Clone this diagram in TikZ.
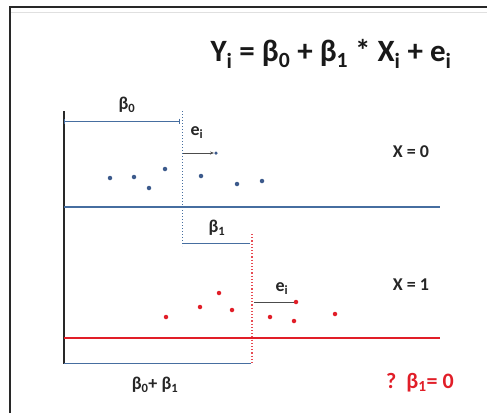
\documentclass[tikz,border=0pt]{standalone}
\usepackage{fontspec}
\setmainfont{Carlito}
\usetikzlibrary{arrows.meta}
\definecolor{axblue}{RGB}{70,110,160}
\definecolor{dotblue}{RGB}{60,90,140}
\definecolor{myred}{RGB}{225,30,40}
\definecolor{frame}{RGB}{40,40,40}
\tikzset{
  bdot/.style={circle,fill=dotblue,inner sep=0pt,minimum size=4.5pt},
  rdot/.style={circle,fill=myred,inner sep=0pt,minimum size=4.5pt},
  brk/.style={draw=axblue,line width=1pt,{Bar[width=5pt]}-{Bar[width=5pt]}},
  lbl/.style={font=\fontsize{18}{20}\selectfont\bfseries,inner sep=0pt,text=black!85},
  xl/.style={font=\fontsize{18}{20}\selectfont\bfseries,inner sep=0pt,text=black!85},
}
\begin{document}
\begin{tikzpicture}[x=1pt,y=-1pt]
\useasboundingbox (0,0) rectangle (487,413);
\fill[white] (0,0) rectangle (487,413);
% frame
\draw[frame,line width=1.6pt] (10,413) -- (10,7) -- (487,7);
\draw[black!12,line width=0.6pt] (11,12) -- (487,12);
% title
\node[inner sep=0pt,font=\fontsize{31}{34}\selectfont\bfseries,text=black!90] (title) at (331,54) {Y\textsubscript{i} = β\textsubscript{0} + β\textsubscript{1} * X\textsubscript{i} + e\textsubscript{i}};
% axis
\coordinate (ax0) at (64,111);
\coordinate (ax1) at (64,364);
\draw[frame,line width=1.2pt] (ax0) -- (ax1);
% beta0 bracket
\coordinate (b0a) at (64,121);
\coordinate (b0b) at (180,121);
\draw[brk] (b0a) -- (b0b);
\node[lbl] (lb0) at (127,105) {β\textsubscript{0}};
% blue dotted vertical
\coordinate (vb0) at (182,111);
\coordinate (vb1) at (182,246);
\draw[axblue,dotted,line width=1pt] (vb0) -- (vb1);
% e_i blue
\node[lbl] (le1) at (197,133) {e\textsubscript{i}};
\node[bdot,minimum size=3.5pt] (ee1) at (216,153) {};
\coordinate (es1) at (183,153);
\draw[black!70,line width=0.7pt,-{Stealth[length=4pt,width=3pt]}] (es1) -- (ee1);
% blue dots
\foreach \x/\y [count=\i] in {110/178,134/177,149/188,165/169,201/176,237/184,262/181}
  \node[bdot] (bd\i) at (\x,\y) {};
% blue line
\coordinate (bl0) at (64,207);
\coordinate (bl1) at (440,207);
\draw[axblue,line width=1.6pt] (bl0) -- (bl1);
\node[xl] (x0) at (411,152) {X = 0};
% beta1 bracket
\coordinate (b1a) at (182,243);
\coordinate (b1b) at (250,243);
\draw[draw=axblue,line width=1pt] (b1a) -- (b1b);
\node[lbl] (lb1) at (217,228) {β\textsubscript{1}};
% red dotted vertical
\coordinate (vr0) at (252,234);
\coordinate (vr1) at (252,364);
\draw[myred!80,dotted,line width=1.2pt] (vr0) -- (vr1);
% e_i red
\node[lbl] (le2) at (282,289) {e\textsubscript{i}};
\node[rdot] (ee2) at (296,302) {};
\coordinate (es2) at (254,302);
\draw[black!70,line width=0.7pt] (es2) -- (ee2);
% red dots
\foreach \x/\y [count=\i] in {166/317,200/307,219/293,232/310,270/317,294/321,335/314}
  \node[rdot] (rd\i) at (\x,\y) {};
% red line
\coordinate (rl0) at (64,338);
\coordinate (rl1) at (440,338);
\draw[myred,line width=2.4pt] (rl0) -- (rl1);
\node[xl] (x1) at (411,285) {X = 1};
% beta0+beta1 bracket
\coordinate (b2a) at (64,363);
\coordinate (b2b) at (251,363);
\draw[draw=axblue,line width=1pt] (b2a) -- (b2b);
\node[lbl] (lb2) at (155,385) {β\textsubscript{0}+ β\textsubscript{1}};
% question
\node[inner sep=0pt,text=myred,font=\fontsize{22}{24}\selectfont\bfseries] (q) at (420,383) {?\ \ β\textsubscript{1}= 0};
\end{tikzpicture}
\end{document}
